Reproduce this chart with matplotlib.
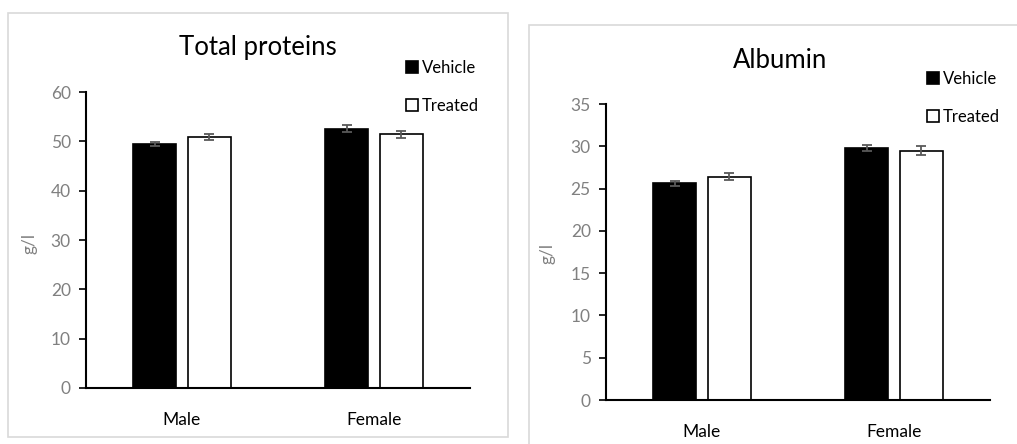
import matplotlib.pyplot as plt
from matplotlib.patches import Rectangle
import numpy as np

plt.rcParams['font.family'] = ['Lato', 'DejaVu Sans']

groups = ['Male', 'Female']
series = ['Vehicle', 'Treated']

prot_vehicle = [49.5, 52.6]
prot_treated = [50.8, 51.4]
prot_vehicle_err = [0.4, 0.8]
prot_treated_err = [0.6, 0.75]

alb_vehicle = [25.6, 29.8]
alb_treated = [26.4, 29.5]
alb_vehicle_err = [0.3, 0.3]
alb_treated_err = [0.4, 0.5]

GRAY = '#808080'


def panel(fig, rect, box, title, title_xy, veh, trt, veh_err, trt_err,
          ymax, step, leg_xy, ylab_xy, xlab_pad):
    # light frame round the chart, like an Excel chart area
    fig.patches.append(Rectangle(box[:2], box[2], box[3], transform=fig.transFigure,
                                 fill=False, edgecolor='#d9d9d9', linewidth=1.2))
    ax = fig.add_axes(rect)
    x = np.arange(len(groups))
    w, off = 0.22, 0.143
    ekw = dict(ecolor='#595959', elinewidth=1.3, capsize=3.5, capthick=1.3)
    ax.bar(x - off, veh, w, yerr=veh_err, color='black', edgecolor='black',
           linewidth=1.2, label=series[0], error_kw=ekw)
    ax.bar(x + off, trt, w, yerr=trt_err, color='white', edgecolor='black',
           linewidth=1.2, label=series[1], error_kw=ekw)
    ax.set_xlim(-0.5, 1.5)
    ax.set_ylim(0, ymax)
    ax.set_yticks(np.arange(0, ymax + 1, step))
    ax.set_xticks(x)
    ax.set_xticklabels(groups, fontsize=12.5, color='black')
    ax.tick_params(axis='x', length=0, pad=xlab_pad)
    ax.tick_params(axis='y', direction='out', length=5, width=1.2,
                   colors='black', labelcolor=GRAY, labelsize=12.5, pad=6)
    for s in ['top', 'right']:
        ax.spines[s].set_visible(False)
    ax.spines['left'].set_linewidth(1.5)
    ax.spines['bottom'].set_linewidth(1.5)
    fig.text(title_xy[0], title_xy[1], title, fontsize=18.5, ha='center', va='center')
    fig.text(ylab_xy[0], ylab_xy[1], 'g/l', fontsize=12.5, color=GRAY,
             rotation=90, ha='center', va='center')
    fig.legend(*ax.get_legend_handles_labels(), loc='upper left',
               bbox_to_anchor=leg_xy, frameon=False, fontsize=12,
               handlelength=0.7, handleheight=0.7, handletextpad=0.25,
               labelspacing=1.3, borderpad=0, borderaxespad=0)
    return ax


W, H = 1017, 444
fig = plt.figure(figsize=(W / 100, H / 100), dpi=100)

panel(fig, [86 / W, 1 - 388 / H, 384 / W, 296 / H],
      (8 / W, 1 - 437 / H, 500 / W, 424 / H),
      'Total proteins', (258 / W, 1 - 47 / H),
      prot_vehicle, prot_treated, prot_vehicle_err, prot_treated_err,
      60, 10, (406 / W, 1 - 60 / H), (29 / W, 1 - 243 / H), 17)

panel(fig, [606 / W, 1 - 400 / H, 384 / W, 296 / H],
      (529 / W, -0.05, 520 / W, 1 - 25 / H + 0.05),
      'Albumin', (780 / W, 1 - 60 / H),
      alb_vehicle, alb_treated, alb_vehicle_err, alb_treated_err,
      35, 5, (927 / W, 1 - 71 / H), (547 / W, 1 - 253 / H), 17)

fig.savefig('out.png', dpi=100)
